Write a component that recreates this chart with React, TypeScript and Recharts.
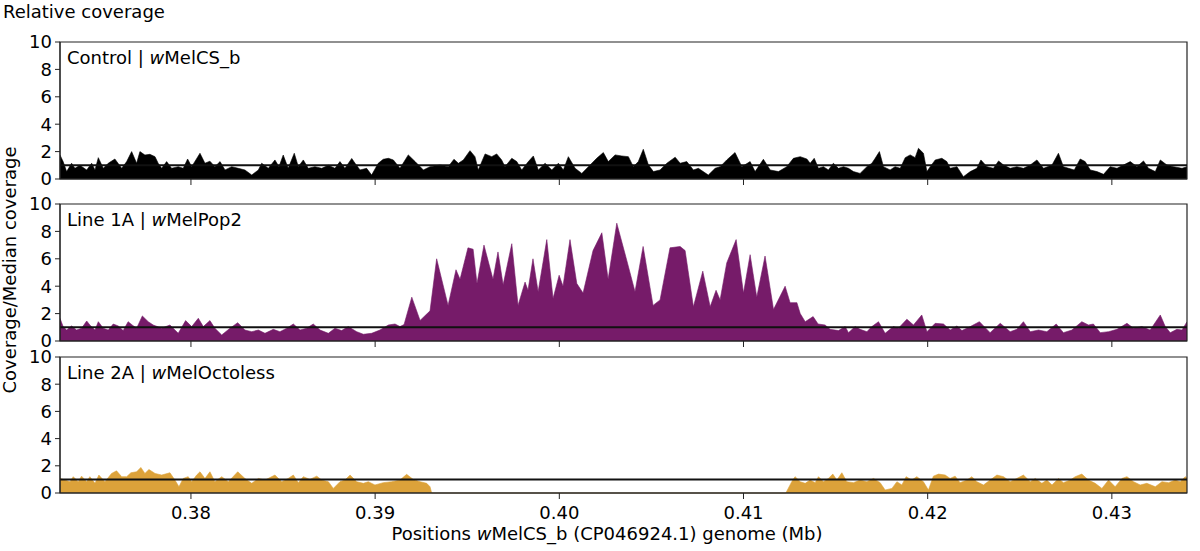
import React from "react";
import { AreaChart, Area, XAxis, YAxis, ReferenceLine, ReferenceArea } from "recharts";

// positions are in kb along wMelCS_b, the axis labels show Mb
const X_MIN = 372.89;
const X_MAX = 434.08;
const X_TICKS = [380, 390, 400, 410, 420, 430];
const Y_TICKS = [0, 2, 4, 6, 8, 10];
const MEDIAN_LEVEL = 1;

const CONTROL_POS = [
  372.89, 373.06, 373.25, 373.52, 373.7, 373.97, 374.34, 374.61, 374.79, 374.97,
  375.24, 375.51, 375.87, 376.24, 376.51, 376.78, 377.05, 377.23, 377.5, 377.77,
  378.05, 378.22, 378.41, 378.68, 378.95, 379.31, 379.58, 379.82, 380.04, 380.49,
  380.76, 381.03, 381.3, 381.58, 381.85, 382.21, 382.57, 382.93, 383.3, 383.66,
  383.84, 384.2, 384.56, 384.78, 385.01, 385.28, 385.61, 385.83, 386.1, 386.37,
  386.73, 387.1, 387.46, 387.82, 388.09, 388.36, 388.73, 388.91, 389.18, 389.54,
  389.81, 390.17, 390.44, 390.72, 390.99, 391.35, 391.8, 392.17, 392.62, 392.98,
  393.52, 393.97, 394.28, 394.52, 394.79, 395.15, 395.42, 395.6, 395.97, 396.33,
  396.6, 396.87, 397.05, 397.42, 397.69, 397.96, 398.32, 398.59, 398.86, 399.23,
  399.59, 399.95, 400.22, 400.49, 400.86, 401.22, 401.67, 402.03, 402.39, 402.66,
  403.03, 403.39, 403.75, 404.02, 404.29, 404.56, 404.84, 405.11, 405.47, 405.84,
  406.29, 406.56, 406.92, 407.28, 407.55, 408.09, 408.46, 408.73, 409.09, 409.54,
  409.91, 410.36, 410.63, 411.08, 411.45, 411.9, 412.35, 412.71, 413.08, 413.44,
  413.62, 413.84, 414.07, 414.34, 414.61, 414.88, 415.16, 415.43, 415.7, 415.97,
  416.33, 416.7, 416.97, 417.15, 417.38, 417.6, 417.96, 418.23, 418.51, 418.78,
  419.05, 419.32, 419.5, 419.77, 419.96, 420.14, 420.41, 420.77, 421.04, 421.22,
  421.59, 421.94, 422.31, 422.67, 422.89, 423.22, 423.57, 423.85, 424.12, 424.48,
  424.84, 425.2, 425.57, 425.93, 426.29, 426.75, 427.1, 427.37, 427.65, 427.96,
  428.28, 428.55, 428.83, 429.19, 429.55, 429.91, 430.28, 430.63, 431.0, 431.36,
  431.72, 431.99, 432.36, 432.63, 432.99, 433.35, 433.81, 434.08,
];
const CONTROL_VAL = [
  1.75, 1.27, 0.54, 1.15, 0.78, 1.0, 0.66, 1.15, 0.66, 1.56,
  0.78, 1.15, 1.46, 0.78, 1.27, 2.0, 1.15, 2.0, 1.75, 1.8,
  1.63, 1.15, 0.78, 1.27, 0.78, 0.9, 0.78, 1.46, 0.9, 1.88,
  1.15, 1.3, 0.9, 1.27, 0.66, 0.9, 0.78, 0.66, 0.29, 0.66,
  1.15, 0.78, 1.39, 0.9, 1.75, 0.78, 1.88, 0.9, 1.39, 0.78,
  0.9, 0.78, 1.0, 0.78, 1.27, 0.78, 1.5, 1.15, 0.66, 0.78,
  0.29, 1.15, 1.44, 1.51, 1.39, 0.78, 1.76, 1.27, 0.66, 0.9,
  1.02, 0.9, 1.44, 1.15, 1.39, 2.07, 1.63, 0.66, 1.83, 1.63,
  1.83, 1.39, 0.9, 1.51, 1.27, 0.66, 1.27, 1.68, 0.66, 1.15,
  0.66, 1.15, 0.66, 1.63, 0.78, 0.41, 1.02, 1.51, 1.93, 1.27,
  1.76, 1.68, 1.63, 0.9, 1.27, 2.17, 1.02, 0.54, 0.66, 1.15,
  1.59, 1.15, 1.27, 0.66, 0.78, 0.29, 0.78, 0.9, 1.39, 1.93,
  0.9, 1.27, 0.54, 1.44, 0.66, 0.54, 0.9, 1.51, 1.63, 1.46,
  1.15, 1.51, 0.78, 0.9, 0.66, 1.15, 0.78, 0.9, 0.78, 0.54,
  0.41, 0.9, 1.15, 1.51, 2.0, 0.9, 0.66, 0.9, 0.78, 1.56,
  1.76, 1.56, 2.24, 1.88, 0.54, 0.9, 1.39, 1.51, 1.27, 0.78,
  0.9, 0.17, 0.54, 0.78, 1.39, 0.9, 0.78, 1.32, 1.02, 0.78,
  0.9, 0.78, 1.02, 1.39, 0.78, 1.02, 1.88, 0.9, 0.78, 0.66,
  1.46, 1.27, 0.66, 0.54, 0.34, 0.9, 0.78, 1.02, 1.27, 0.9,
  1.32, 0.78, 0.54, 1.39, 1.02, 0.9, 0.78, 0.9,
];

const POP2_POS = [
  372.89, 373.06, 373.25, 373.52, 373.79, 374.06, 374.34, 374.51, 374.79, 374.97,
  375.24, 375.51, 375.78, 376.05, 376.32, 376.59, 376.81, 377.05, 377.36, 377.68,
  377.95, 378.41, 378.86, 379.31, 379.71, 380.04, 380.4, 380.67, 381.03, 381.3,
  381.67, 382.12, 382.54, 382.93, 383.3, 383.66, 384.02, 384.47, 384.83, 385.2,
  385.56, 385.92, 386.28, 386.64, 387.01, 387.46, 387.82, 388.18, 388.54, 389.0,
  389.36, 389.81, 390.26, 390.72, 391.08, 391.35, 391.57, 391.99, 392.44, 392.98,
  393.34, 393.96, 394.39, 394.61, 395.04, 395.32, 395.53, 395.91, 396.4, 396.67,
  396.95, 397.42, 397.76, 398.14, 398.3, 398.57, 398.85, 399.32, 399.66, 399.99,
  400.2, 400.58, 400.95, 401.29, 401.83, 402.31, 402.65, 403.12, 403.66, 404.11,
  404.55, 405.09, 405.47, 406.01, 406.56, 406.83, 407.28, 407.79, 408.19, 408.51,
  408.73, 409.09, 409.6, 410.0, 410.36, 410.72, 411.17, 411.63, 412.26, 412.53,
  412.9, 413.08, 413.35, 413.78, 414.05, 414.43, 414.7, 415.16, 415.52, 415.7,
  416.06, 416.33, 416.7, 416.97, 417.33, 417.69, 418.14, 418.41, 418.87, 419.23,
  419.68, 419.96, 420.41, 420.86, 421.22, 421.59, 421.86, 422.31, 422.81, 423.39,
  423.94, 424.48, 424.84, 425.2, 425.57, 426.02, 426.47, 426.98, 427.37, 427.83,
  428.37, 428.73, 429.0, 429.37, 429.82, 430.28, 430.82, 431.18, 431.63, 432.08,
  432.63, 432.9, 433.17, 433.53, 433.81, 434.08,
];
const POP2_VAL = [
  1.66, 1.05, 0.8, 1.1, 0.8, 0.93, 1.46, 1.17, 0.8, 1.41,
  0.93, 0.8, 1.24, 1.1, 0.76, 1.41, 1.17, 0.93, 1.83, 1.41,
  1.17, 0.93, 1.17, 0.56, 1.49, 1.05, 1.66, 1.05, 1.49, 0.93,
  0.44, 0.93, 1.34, 0.8, 0.68, 0.8, 0.56, 0.85, 0.68, 0.93,
  1.24, 0.8, 0.93, 1.24, 0.8, 0.56, 0.93, 0.76, 1.05, 0.68,
  0.49, 0.56, 0.8, 1.17, 1.24, 1.05, 1.2, 3.2, 1.5, 2.2,
  6.0, 2.6, 5.2, 4.5, 6.8, 6.7, 4.2, 7.0, 4.5, 6.5,
  4.1, 7.1, 2.6, 4.3, 3.7, 6.0, 3.6, 7.4, 3.1, 4.8,
  4.0, 7.4, 4.2, 3.5, 6.6, 7.9, 4.5, 8.6, 5.9, 3.6,
  6.9, 2.6, 3.0, 6.8, 6.9, 6.6, 2.5, 5.1, 2.5, 3.7,
  3.0, 5.7, 7.4, 3.5, 6.3, 3.2, 6.2, 2.3, 4.0, 2.8,
  2.8, 2.0, 1.41, 1.78, 1.24, 1.17, 0.85, 0.76, 1.05, 0.61,
  1.05, 0.85, 0.68, 1.05, 1.41, 0.56, 1.05, 0.93, 1.59, 1.17,
  1.9, 0.68, 1.29, 1.24, 0.8, 1.1, 0.76, 1.05, 1.41, 0.61,
  1.29, 0.68, 0.85, 1.41, 0.68, 0.8, 0.68, 1.24, 0.61, 0.8,
  1.41, 1.17, 1.24, 0.61, 0.68, 0.85, 1.29, 0.93, 1.05, 0.8,
  1.9, 1.05, 0.61, 0.85, 0.8, 1.41,
];

const OCTO_POS = [
  372.89, 373.16, 373.43, 373.61, 373.88, 374.06, 374.34, 374.51, 374.79, 375.0,
  375.33, 375.69, 375.96, 376.24, 376.51, 376.74, 377.05, 377.28, 377.5, 377.72,
  378.05, 378.41, 378.86, 379.13, 379.35, 379.58, 379.85, 380.04, 380.31, 380.49,
  380.76, 381.03, 381.3, 381.67, 382.03, 382.54, 382.93, 383.3, 383.66, 384.02,
  384.56, 384.93, 385.28, 385.56, 385.83, 386.1, 386.46, 386.83, 387.1, 387.46,
  387.73, 388.09, 388.36, 388.64, 389.0, 389.36, 389.63, 389.99, 390.44, 390.9,
  391.35, 391.71, 392.07, 392.44, 392.8, 392.98, 393.07, 412.3, 412.62, 412.8,
  413.08, 413.35, 413.62, 413.89, 414.07, 414.34, 414.61, 414.85, 415.07, 415.34,
  415.61, 415.97, 416.33, 416.7, 417.06, 417.42, 417.69, 418.06, 418.33, 418.6,
  418.83, 419.14, 419.41, 419.77, 420.04, 420.31, 420.59, 420.95, 421.22, 421.49,
  421.76, 422.13, 422.4, 422.67, 423.03, 423.39, 423.76, 424.12, 424.48, 424.84,
  425.2, 425.57, 425.84, 426.2, 426.47, 426.75, 427.1, 427.37, 427.74, 428.01,
  428.37, 428.73, 429.1, 429.46, 429.82, 430.18, 430.55, 430.82, 431.18, 431.54,
  431.9, 432.36, 432.72, 433.08, 433.44, 433.71, 433.98, 434.08,
];
const OCTO_VAL = [
  1.07, 0.95, 0.83, 1.2, 0.83, 1.24, 0.83, 1.2, 0.71, 1.32,
  0.83, 1.44, 1.63, 1.2, 1.2, 1.49, 1.56, 1.88, 1.44, 1.73,
  1.44, 1.32, 1.49, 0.95, 0.46, 1.07, 1.2, 0.83, 1.32, 1.56,
  1.07, 1.56, 0.83, 1.2, 0.83, 1.56, 1.07, 0.71, 1.07, 0.95,
  1.32, 0.83, 1.07, 1.32, 0.76, 1.2, 1.0, 1.24, 0.95, 0.83,
  0.34, 0.83, 0.95, 1.32, 0.83, 0.71, 0.83, 0.59, 0.76, 0.83,
  0.95, 1.37, 1.0, 0.83, 0.71, 0.46, 0, 0, 0.83, 1.2,
  0.83, 0.71, 0.95, 0.76, 1.2, 0.83, 1.07, 1.39, 0.95, 1.49,
  0.83, 0.76, 0.95, 0.83, 1.07, 0.76, 0.22, 0.34, 0.83, 0.59,
  1.2, 0.95, 1.2, 0.83, 0.22, 1.24, 1.39, 1.32, 1.07, 1.24,
  0.76, 0.95, 1.2, 0.83, 0.59, 0.95, 1.32, 1.2, 0.83, 1.07,
  1.32, 0.83, 1.07, 0.71, 0.95, 0.59, 1.07, 0.76, 0.95, 1.2,
  1.39, 0.95, 0.71, 0.34, 0.95, 0.46, 1.07, 1.2, 0.83, 0.59,
  0.71, 0.46, 0.83, 0.76, 0.95, 0.83, 1.2, 1.1,
];

const SAMPLES = ["Control", "Line 1A", "Line 2A"];
const STRAINS = ["MelCS_b", "MelPop2", "MelOctoless"];

const FONT = "DejaVu Sans";
const AXIS = "#222";

const toRows = (pos: number[], val: number[]) => pos.map((kb, i) => ({ kb, v: val[i] }));

const panels = [
  { data: toRows(CONTROL_POS, CONTROL_VAL), color: "#000000", top: 42, bottom: 179 },
  { data: toRows(POP2_POS, POP2_VAL), color: "#761b69", top: 204, bottom: 341 },
  { data: toRows(OCTO_POS, OCTO_VAL), color: "#dca23a", top: 357, bottom: 493 },
];

function Panel({ idx }: { idx: number }) {
  const p = panels[idx];
  const last = idx === panels.length - 1;
  const xAxisH = last ? 40 : 20;
  return (
    <AreaChart
      width={1200}
      height={551}
      data={p.data}
      margin={{ top: p.top, right: 13, bottom: 551 - p.bottom - xAxisH, left: 0 }}
      style={{ position: "absolute", left: 0, top: 0, fontFamily: FONT }}
    >
      <XAxis
        type="number"
        dataKey="kb"
        domain={[X_MIN, X_MAX]}
        ticks={X_TICKS}
        interval={0}
        allowDataOverflow
        height={xAxisH}
        tickSize={6}
        tickMargin={7}
        stroke={AXIS}
        tick={{ fill: "#000", fontSize: 18, fontFamily: FONT }}
        tickFormatter={(v: number) => (last ? (v / 1000).toFixed(2) : "")}
      />
      <YAxis
        type="number"
        domain={[0, 10]}
        ticks={Y_TICKS}
        interval={0}
        width={60}
        tickSize={5}
        tickMargin={3}
        stroke={AXIS}
        tick={{ fill: "#000", fontSize: 18, fontFamily: FONT }}
      />
      <Area
        type="linear"
        dataKey="v"
        stroke={p.color}
        strokeWidth={0.6}
        fill={p.color}
        fillOpacity={1}
        isAnimationActive={false}
      />
      <ReferenceLine y={MEDIAN_LEVEL} stroke="#111" strokeWidth={2} />
      <ReferenceArea x1={X_MIN} x2={X_MAX} y1={0} y2={10} fill="none" stroke={AXIS} strokeWidth={1.2} />
    </AreaChart>
  );
}

export default function App() {
  return (
    <div style={{ position: "absolute", left: 0, top: 0, width: 1200, height: 551, background: "#fff" }}>
      {panels.map((_, i) => (
        <Panel key={i} idx={i} />
      ))}
      <svg
        width={1200}
        height={551}
        style={{ position: "absolute", left: 0, top: 0, fontFamily: FONT, pointerEvents: "none" }}
      >
        <text x={3} y={18} fontSize={18} fill="#000">
          Relative coverage
        </text>
        {panels.map((p, i) => (
          <text key={i} x={67} y={p.top + 22} fontSize={18} fill="#000">
            <tspan>{SAMPLES[i]} | </tspan>
            <tspan fontStyle="italic">w</tspan>
            <tspan>{STRAINS[i]}</tspan>
          </text>
        ))}
        <text x={607} y={540} fontSize={18} fill="#000" textAnchor="middle">
          <tspan>Positions </tspan>
          <tspan fontStyle="italic">w</tspan>
          <tspan>MelCS_b (CP046924.1) genome (Mb)</tspan>
        </text>
        <text x={16} y={270} fontSize={18} fill="#000" textAnchor="middle" transform="rotate(-90, 16, 270)">
          Coverage/Median coverage
        </text>
      </svg>
    </div>
  );
}
